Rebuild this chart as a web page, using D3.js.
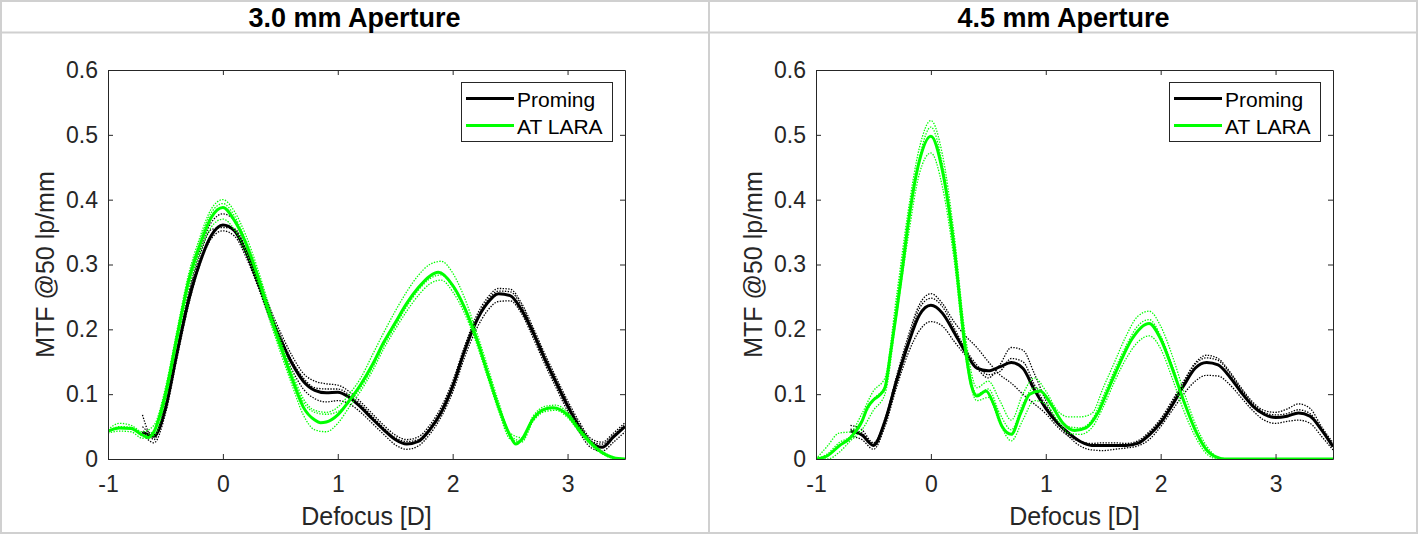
<!DOCTYPE html>
<html><head><meta charset="utf-8">
<script src="https://cdn.jsdelivr.net/npm/d3@7"></script>
<style>html,body{margin:0;padding:0;background:#fff;} svg{display:block;}</style>
</head><body>
<svg id="chart" width="1418" height="534"></svg>
<script>
// ---------------- DATA ----------------
const TITLES = ["3.0 mm Aperture", "4.5 mm Aperture"];
const SERIES_NAMES = ["Proming", "AT LARA"];
const X_LABEL = "Defocus [D]";
const Y_LABEL = "MTF @50 lp/mm";
const X_TICKS = [-1, 0, 1, 2, 3];
const X_TICK_LABELS = ["-1", "0", "1", "2", "3"];
const Y_TICKS = [0, 0.1, 0.2, 0.3, 0.4, 0.5, 0.6];
const Y_TICK_LABELS = ["0", "0.1", "0.2", "0.3", "0.4", "0.5", "0.6"];

// defocus sample positions (D)
const X_GRID = [-1.0,-0.9,-0.8,-0.7,-0.6,-0.5,-0.4,-0.3,-0.2,-0.1,
  0.0,0.1,0.2,0.3,0.4,0.5,0.6,0.7,0.8,0.9,
  1.0,1.1,1.2,1.3,1.4,1.5,1.6,1.7,1.8,1.9,
  2.0,2.1,2.2,2.3,2.4,2.5,2.6,2.7,2.8,2.9,
  3.0,3.1,3.2,3.3,3.4,3.5];

// ---- 3.0 mm aperture ----
const PROMING_30_MEAN = [null,null,null,0.042,0.035,0.078,0.163,0.243,0.303,0.345,
  0.361,0.352,0.32,0.275,0.227,0.185,0.148,0.12,0.106,0.102,
  0.103,0.095,0.08,0.062,0.045,0.03,0.023,0.027,0.045,0.072,
  0.112,0.165,0.21,0.24,0.255,0.252,0.23,0.195,0.155,0.118,
  0.082,0.05,0.026,0.018,0.034,0.05];
const PROMING_30_EYE1 = [null,null,null,0.068,0.03,0.09,0.17,0.255,0.322,0.365,
  0.378,0.368,0.333,0.285,0.237,0.196,0.16,0.132,0.12,0.116,
  0.114,0.104,0.088,0.07,0.052,0.037,0.03,0.034,0.052,0.08,
  0.12,0.172,0.218,0.248,0.263,0.262,0.24,0.203,0.163,0.126,
  0.09,0.058,0.032,0.026,0.04,0.056];
const PROMING_30_EYE2 = [null,null,null,0.04,0.025,0.07,0.155,0.237,0.3,0.34,
  0.352,0.344,0.312,0.268,0.22,0.176,0.138,0.108,0.093,0.088,
  0.09,0.085,0.072,0.055,0.038,0.022,0.015,0.02,0.038,0.065,
  0.103,0.155,0.198,0.228,0.243,0.244,0.224,0.187,0.147,0.11,
  0.074,0.042,0.018,0.012,0.026,0.042];
const PROMING_30_EYE3 = [null,null,null,0.05,0.038,0.082,0.166,0.25,0.314,0.354,
  0.357,0.355,0.325,0.28,0.232,0.19,0.152,0.125,0.11,0.108,
  0.108,0.099,0.084,0.066,0.048,0.033,0.027,0.03,0.048,0.075,
  0.116,0.168,0.212,0.244,0.259,0.258,0.236,0.199,0.159,0.122,
  0.086,0.054,0.028,0.023,0.037,0.053];

const LARA_30_X = [-1.0,-0.9,-0.8,-0.7,-0.65,-0.6,-0.5,-0.4,-0.3,-0.2,-0.1,
  0.0,0.1,0.2,0.3,0.4,0.5,0.6,0.7,0.8,0.85,0.9,
  1.0,1.1,1.2,1.3,1.4,1.5,1.6,1.7,1.8,1.875,
  2.0,2.1,2.2,2.3,2.4,2.5,2.55,2.6,2.7,2.8,2.875,
  3.0,3.1,3.2,3.3,3.4,3.5];
const LARA_30_MEAN = [0.043,0.048,0.047,0.037,0.033,0.042,0.1,0.188,0.273,0.33,0.373,
  0.388,0.368,0.333,0.284,0.227,0.175,0.125,0.08,0.06,0.056,0.057,
  0.068,0.09,0.115,0.145,0.18,0.21,0.24,0.264,0.282,0.288,
  0.268,0.235,0.19,0.135,0.08,0.036,0.023,0.03,0.062,0.077,0.079,
  0.068,0.045,0.025,0.01,0.002,0];
const LARA_30_EYE1 = [0.045,0.055,0.052,0.042,0.052,0.11,0.198,0.284,0.342,0.386,
  0.40,0.382,0.345,0.295,0.238,0.185,0.135,0.093,0.075,0.072,
  0.08,0.1,0.125,0.16,0.195,0.228,0.258,0.283,0.3,0.305,
  0.287,0.25,0.2,0.145,0.088,0.04,0.033,0.066,0.081,0.083,
  0.072,0.05,0.028,0.012,0.003,0];
const LARA_30_EYE2 = [0.04,0.043,0.042,0.032,0.036,0.09,0.178,0.262,0.318,0.358,
  0.37,0.354,0.32,0.274,0.218,0.165,0.115,0.068,0.045,0.042,
  0.055,0.08,0.105,0.135,0.17,0.2,0.228,0.252,0.27,0.276,
  0.258,0.226,0.182,0.128,0.074,0.031,0.026,0.058,0.073,0.075,
  0.064,0.042,0.022,0.008,0.001,0];
const LARA_30_EYE3 = [0.042,0.05,0.049,0.036,0.044,0.104,0.192,0.278,0.336,0.38,
  0.394,0.375,0.336,0.288,0.23,0.178,0.13,0.088,0.072,0.069,
  0.073,0.088,0.11,0.14,0.175,0.205,0.235,0.26,0.278,0.284,
  0.265,0.232,0.187,0.132,0.078,0.036,0.028,0.06,0.075,0.078,
  0.067,0.044,0.024,0.009,0.002,0];

// ---- 4.5 mm aperture ----
const PROMING_45_MEAN = [null,null,null,0.043,0.037,0.021,0.058,0.12,0.176,0.222,
  0.237,0.225,0.196,0.165,0.14,0.136,0.142,0.149,0.14,0.107,
  0.078,0.056,0.04,0.027,0.021,0.021,0.021,0.021,0.024,0.037,
  0.056,0.083,0.113,0.14,0.149,0.145,0.127,0.103,0.082,0.069,
  0.064,0.066,0.071,0.066,0.045,0.019];
const PROMING_45_EYE1 = [null,null,null,0.052,0.045,0.025,0.06,0.127,0.188,0.238,
  0.255,0.24,0.212,0.19,0.172,0.15,0.13,0.117,0.1,0.085,
  0.07,0.05,0.035,0.027,0.024,0.025,0.025,0.024,0.028,0.042,
  0.062,0.09,0.12,0.148,0.16,0.155,0.135,0.11,0.088,0.075,
  0.072,0.077,0.085,0.078,0.05,0.025];
const PROMING_45_EYE2 = [null,null,null,0.035,0.03,0.015,0.05,0.11,0.162,0.198,
  0.212,0.205,0.182,0.16,0.14,0.125,0.145,0.172,0.168,0.132,
  0.09,0.058,0.035,0.02,0.014,0.013,0.015,0.017,0.02,0.03,
  0.05,0.075,0.1,0.12,0.129,0.128,0.115,0.095,0.075,0.06,
  0.055,0.058,0.06,0.055,0.035,0.014];
const PROMING_45_EYE3 = [null,null,null,0.046,0.04,0.024,0.062,0.124,0.182,0.232,
  0.248,0.235,0.203,0.17,0.145,0.13,0.135,0.155,0.15,0.115,
  0.083,0.058,0.04,0.028,0.022,0.022,0.022,0.022,0.026,0.04,
  0.06,0.088,0.118,0.146,0.156,0.152,0.133,0.108,0.086,0.072,
  0.068,0.07,0.076,0.07,0.046,0.022];

const LARA_45_X = [-1,-0.9,-0.8,-0.7,-0.6,-0.55,-0.5,-0.45,-0.4,-0.35,
  -0.3,-0.25,-0.2,-0.1,0,0.1,0.2,0.3,0.35,0.4,
  0.48,0.55,0.62,0.7,0.78,0.86,0.95,1.05,1.15,1.25,
  1.35,1.45,1.55,1.65,1.75,1.9,2.0,2.1,2.2,2.3,
  2.4,2.5,2.55,3.0,3.5];
const LARA_45_MEAN = [0,0.005,0.02,0.033,0.058,0.08,0.091,0.098,0.11,0.165,
  0.225,0.29,0.36,0.46,0.498,0.445,0.33,0.17,0.115,0.097,
  0.105,0.083,0.05,0.038,0.07,0.1,0.105,0.083,0.055,0.044,
  0.048,0.07,0.11,0.15,0.185,0.209,0.185,0.14,0.09,0.045,
  0.014,0.002,0,0,0];
const LARA_45_EYE1 = [0,0.02,0.04,0.042,0.07,0.105,0.125,0.25,0.38,0.48,
  0.522,0.47,0.35,0.19,0.11,0.12,0.09,0.06,0.1,0.125,
  0.105,0.075,0.065,0.065,0.07,0.11,0.15,0.19,0.22,0.228,
  0.205,0.16,0.105,0.055,0.02,0.003,0,0,0,0,
  0,0,0,0,0,0];
const LARA_45_EYE2 = [0,0,0.01,0.028,0.045,0.075,0.1,0.22,0.34,0.44,
  0.472,0.42,0.31,0.16,0.09,0.095,0.055,0.028,0.06,0.09,
  0.085,0.06,0.04,0.038,0.048,0.08,0.12,0.155,0.18,0.19,
  0.17,0.125,0.075,0.035,0.008,0,0,0,0,0,
  0,0,0,0,0,0];
const LARA_45_EYE3 = [0,0.008,0.025,0.035,0.06,0.092,0.112,0.24,0.365,0.465,
  0.512,0.455,0.335,0.175,0.1,0.108,0.07,0.045,0.085,0.11,
  0.098,0.068,0.05,0.048,0.06,0.097,0.138,0.175,0.205,0.215,
  0.19,0.145,0.092,0.046,0.015,0.002,0,0,0,0,
  0,0,0,0,0,0];

// ---------------- DRAWING ----------------
const COLORS = ["#000000", "#00ff00"];
const AXIS_COLOR = "#262626";
const FONT = "'Liberation Sans', Arial, Helvetica, sans-serif";
const BORDER = "#d0d0d0";
const W = 1418, H = 534;

const zip = (xs, ys) => xs.map((x, i) => ({x, y: ys[i]}));

const panelData = [
  {
    title: TITLES[0],
    series: [
      {color: COLORS[0], mean: zip(X_GRID, PROMING_30_MEAN),
       eyes: [PROMING_30_EYE1, PROMING_30_EYE2, PROMING_30_EYE3].map(a => zip(X_GRID, a))},
      {color: COLORS[1], mean: zip(LARA_30_X, LARA_30_MEAN),
       eyes: [LARA_30_EYE1, LARA_30_EYE2, LARA_30_EYE3].map(a => zip(X_GRID, a))}
    ]
  },
  {
    title: TITLES[1],
    series: [
      {color: COLORS[0], mean: zip(X_GRID, PROMING_45_MEAN),
       eyes: [PROMING_45_EYE1, PROMING_45_EYE2, PROMING_45_EYE3].map(a => zip(X_GRID, a))},
      {color: COLORS[1], mean: zip(LARA_45_X, LARA_45_MEAN),
       eyes: [LARA_45_EYE1, LARA_45_EYE2, LARA_45_EYE3].map(a => zip(X_GRID, a))}
    ]
  }
];

const layout = [
  {cellX: 0, cellW: 709, x0: 108, x1: 625},
  {cellX: 709, cellW: 709, x0: 816, x1: 1333}
];
const yTop = 70, yBot = 459;

const svg = d3.select("#chart");
svg.append("rect").attr("width", W).attr("height", H).attr("fill", "#fff");

// cell borders
svg.append("rect").attr("x", 1).attr("y", 1).attr("width", W - 2).attr("height", H - 2)
  .attr("fill", "none").attr("stroke", BORDER).attr("stroke-width", 2);
svg.append("line").attr("x1", 0).attr("x2", W).attr("y1", 32.5).attr("y2", 32.5)
  .attr("stroke", BORDER).attr("stroke-width", 2);
svg.append("line").attr("x1", 709).attr("x2", 709).attr("y1", 0).attr("y2", H)
  .attr("stroke", BORDER).attr("stroke-width", 2);

panelData.forEach((p, pi) => {
  const L = layout[pi];
  const g = svg.append("g");
  const x = d3.scaleLinear().domain([-1, 3.5]).range([L.x0, L.x1]);
  const y = d3.scaleLinear().domain([0, 0.6]).range([yBot, yTop]);

  // title
  g.append("text").attr("x", L.cellX + L.cellW / 2).attr("y", 26.5)
    .attr("text-anchor", "middle").attr("font-family", FONT).attr("font-weight", "bold")
    .attr("font-size", 27).attr("fill", "#000").text(p.title);

  // clip
  const cid = "clip" + pi;
  svg.append("clipPath").attr("id", cid).append("rect")
    .attr("x", L.x0).attr("y", yTop - 2).attr("width", L.x1 - L.x0).attr("height", yBot - yTop + 2);

  const line = d3.line().defined(d => d.y !== null && d.y !== undefined)
    .x(d => x(d.x)).y(d => y(d.y)).curve(d3.curveMonotoneX);

  const plot = g.append("g").attr("clip-path", `url(#${cid})`);
  p.series.forEach(s => {
    s.eyes.forEach(e => {
      plot.append("path").datum(e).attr("d", line).attr("fill", "none")
        .attr("stroke", s.color).attr("stroke-width", 1.3)
        .attr("stroke-dasharray", "1.4,1.4");
    });
    plot.append("path").datum(s.mean).attr("d", line).attr("fill", "none")
      .attr("stroke", s.color).attr("stroke-width", 3)
      .attr("stroke-linejoin", "round");
  });

  // axes
  const styleAxis = (sel, fs) => {
    sel.attr("font-family", FONT).attr("font-size", fs);
    sel.select(".domain").attr("stroke", AXIS_COLOR).attr("stroke-width", 1);
    sel.selectAll(".tick line").attr("stroke", AXIS_COLOR);
    sel.selectAll(".tick text").attr("fill", AXIS_COLOR);
  };
  g.append("g").attr("transform", `translate(0,${yBot})`)
    .call(d3.axisBottom(x).tickValues(X_TICKS).tickFormat((d, i) => X_TICK_LABELS[i])
      .tickSizeInner(-5).tickSizeOuter(0).tickPadding(17))
    .call(s => styleAxis(s, 23));
  g.append("g").attr("transform", `translate(0,${yTop})`)
    .call(d3.axisTop(x).tickValues(X_TICKS).tickFormat("")
      .tickSizeInner(-5).tickSizeOuter(0))
    .call(s => styleAxis(s, 23));
  g.append("g").attr("transform", `translate(${L.x0},0)`)
    .call(d3.axisLeft(y).tickValues(Y_TICKS).tickFormat((d, i) => Y_TICK_LABELS[i])
      .tickSizeInner(-5).tickSizeOuter(0).tickPadding(10))
    .call(s => styleAxis(s, 23));
  g.append("g").attr("transform", `translate(${L.x1},0)`)
    .call(d3.axisRight(y).tickValues(Y_TICKS).tickFormat("")
      .tickSizeInner(-5).tickSizeOuter(0))
    .call(s => styleAxis(s, 23));

  // axis labels
  g.append("text").attr("x", (L.x0 + L.x1) / 2).attr("y", 525)
    .attr("text-anchor", "middle").attr("font-family", FONT).attr("font-size", 25)
    .attr("fill", AXIS_COLOR).text(X_LABEL);
  g.append("text").attr("transform", `translate(${L.x0 - 54},${(yTop + yBot) / 2}) rotate(-90)`)
    .attr("text-anchor", "middle").attr("font-family", FONT).attr("font-size", 25)
    .attr("fill", AXIS_COLOR).text(Y_LABEL);

  // legend
  const lw = 151, lh = 59;
  const lx = L.x1 - 13 - lw, ly = 82;
  const lg = g.append("g");
  lg.append("rect").attr("x", lx + 0.5).attr("y", ly + 0.5).attr("width", lw).attr("height", lh)
    .attr("fill", "#fff").attr("stroke", AXIS_COLOR).attr("stroke-width", 1);
  SERIES_NAMES.forEach((name, i) => {
    const cy = ly + 16.5 + i * 27;
    lg.append("line").attr("x1", lx + 5).attr("x2", lx + 53).attr("y1", cy).attr("y2", cy)
      .attr("stroke", COLORS[i]).attr("stroke-width", 3);
    lg.append("text").attr("x", lx + 56).attr("y", cy + 8)
      .attr("font-family", FONT).attr("font-size", 21).attr("fill", "#000").text(name);
  });
});
</script>
</body></html>
